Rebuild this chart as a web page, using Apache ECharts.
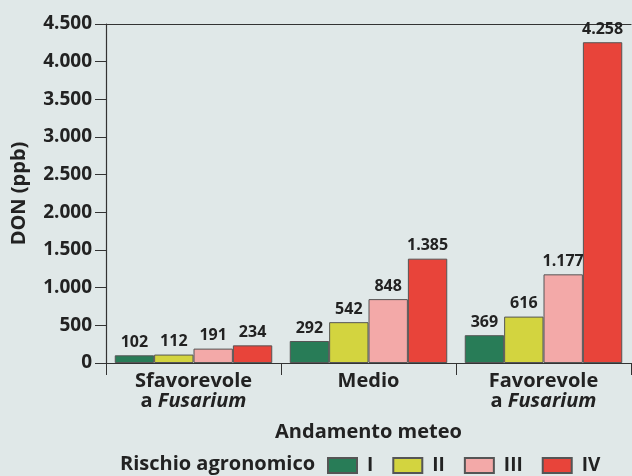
<!DOCTYPE html>
<html>
<head>
<meta charset="utf-8">
<script src="https://cdn.jsdelivr.net/npm/echarts@6/dist/echarts.min.js"></script>
<style>
html,body{margin:0;padding:0;background:#e0e8e8;}
#c{width:632px;height:476px;}
</style>
</head>
<body>
<div id="c"></div>
<script>
const categories = ['Sfavorevole\na {i|Fusarium}', 'Medio', 'Favorevole\na {i|Fusarium}'];
const seriesNames = ['I', 'II', 'III', 'IV'];
const riskI = [102, 292, 369];
const riskII = [112, 542, 616];
const riskIII = [191, 848, 1177];
const riskIV = [234, 1385, 4258];
const colors = ['#287c57', '#d3d43f', '#f3a9a8', '#e8443a'];

const fmt = v => String(v).replace(/\B(?=(\d{3})+(?!\d))/g, '.');
const FONT = '"Open Sans", "Noto Sans", sans-serif';

const chart = echarts.init(document.getElementById('c'));
const data = [riskI, riskII, riskIII, riskIV];
chart.setOption({
  backgroundColor: '#e0e8e8',
  animation: false,
  textStyle: { fontFamily: FONT },
  grid: { left: 106, right: 1, top: 24, bottom: 113 },
  legend: {
    left: 322, top: 451,
    itemWidth: 29, itemHeight: 15, itemGap: 19,
    icon: 'rect',
    textStyle: { fontFamily: FONT, fontSize: 19, fontWeight: 'bold', color: '#222', padding: [0, 0, 0, 5] },
    data: seriesNames
  },
  graphic: [{
    type: 'text', left: 120, top: 454,
    style: { text: 'Rischio agronomico', font: 'bold 20px ' + FONT, fill: '#222' }
  }],
  xAxis: [{
    type: 'category',
    data: categories,
    name: 'Andamento meteo',
    nameLocation: 'middle',
    nameGap: 59,
    nameTextStyle: { fontFamily: FONT, fontSize: 20, fontWeight: 'bold', color: '#222' },
    axisLine: { lineStyle: { color: '#333', width: 1.2 } },
    axisTick: { show: true, interval: 0, length: 12, lineStyle: { color: '#333' } },
    axisLabel: {
      interval: 0, hideOverlap: false,
      margin: 8, color: '#222', fontSize: 20, fontWeight: 'bold', lineHeight: 20, fontFamily: FONT,
      rich: { i: { fontStyle: 'italic', fontSize: 20, fontWeight: 'bold', color: '#222', fontFamily: FONT, lineHeight: 20 } }
    }
  }, {
    type: 'category', position: 'top', data: categories,
    axisLine: { show: true, lineStyle: { color: '#333', width: 1.2 } },
    axisTick: { show: false }, axisLabel: { show: false }
  }],
  yAxis: {
    type: 'value', min: 0, max: 4500, interval: 500,
    name: 'DON (ppb)', nameLocation: 'middle', nameGap: 77,
    nameTextStyle: { fontFamily: FONT, fontSize: 20, fontWeight: 'bold', color: '#222' },
    axisLine: { show: true, lineStyle: { color: '#333', width: 1.2 } },
    axisTick: { show: true, length: 11, lineStyle: { color: '#333' } },
    splitLine: { show: false },
    axisLabel: { margin: 14, color: '#222', fontSize: 19, fontWeight: 'bold', fontFamily: FONT, formatter: fmt }
  },
  series: data.map((d, k) => ({
    name: seriesNames[k],
    type: 'bar',
    data: d,
    barGap: '0%',
    barCategoryGap: '10%',
    itemStyle: { color: colors[k], borderColor: '#555', borderWidth: 1 },
    label: {
      show: true, position: 'top', distance: 5,
      fontFamily: FONT, fontSize: 16, fontWeight: 'bold', color: '#222',
      formatter: p => fmt(p.value)
    }
  }))
});
</script>
</body>
</html>
